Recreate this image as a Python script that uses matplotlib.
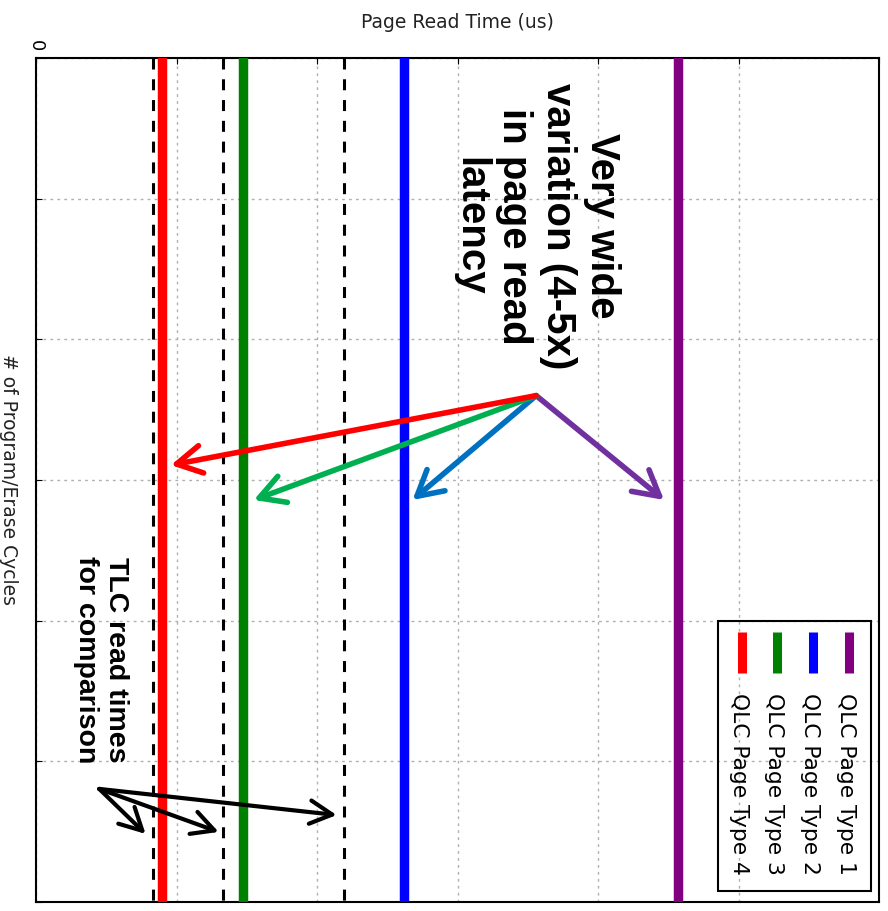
import matplotlib
matplotlib.use('Agg')
import matplotlib.pyplot as plt
from matplotlib.patches import Rectangle

# page read time (us) of each QLC page type, and TLC reference times
qlc_labels = ['QLC Page Type 1', 'QLC Page Type 2', 'QLC Page Type 3', 'QLC Page Type 4']
qlc_times = [457, 262, 147, 90]
qlc_colors = ['#800080', '#0000ff', '#008000', '#ff0000']
tlc_times = [83, 133, 219]
pe_cycles = [0, 3000]

time_ticks = [0, 100, 200, 300, 400, 500, 600]
time_ticklabels = ['0', '', '', '', '', '', '']
pe_ticks = [0, 500, 1000, 1500, 2000, 2500, 3000]

# annotation arrows: start point and tips (read time, P/E cycles)
wide_start = (356, 1200)
wide_tips = [(447, 1571), (268, 1571), (155, 1571), (96, 1447)]
wide_colors = ['#7030a0', '#0070c0', '#00b050', '#ff0000']
tlc_start = (45, 2598)
tlc_tips = [(78, 2758), (130, 2751), (214, 2691)]

fig = plt.figure(figsize=(8.88, 9.11), dpi=100)
ax = fig.add_axes([36 / 888, 9 / 911, 843 / 888, 844 / 911])

for t in tlc_times:
    ax.plot([t, t], pe_cycles, color='black', lw=2.2, dashes=(3.6, 3.2), zorder=2)
for t, c in zip(qlc_times, qlc_colors):
    ax.plot([t, t], pe_cycles, color=c, lw=6.8, zorder=3)

ax.set_xlim(0, 600)
ax.set_ylim(3000, 0)
ax.set_xticks(time_ticks)
ax.set_xticklabels(time_ticklabels)
ax.set_yticks(pe_ticks)
ax.set_yticklabels([])
ax.xaxis.tick_top()
ax.tick_params(axis='x', direction='in', length=4, labelrotation=270, labelsize=13, pad=5)
ax.tick_params(axis='y', direction='in', length=4)
ax.grid(True, color='#b0b0b0', linestyle=(0, (2, 3)), lw=1)
for s in ax.spines.values():
    s.set_linewidth(1.5)

ax.set_xlabel('Page Read Time (us)', fontsize=13.5, color='#222222', va='center')
ax.xaxis.set_label_position('top')
ax.xaxis.set_label_coords(0.5, 1.0355)
ax.set_ylabel('# of Program/Erase Cycles', fontsize=13.5, color='#222222',
              rotation=270, va='center', ha='center')
ax.yaxis.set_label_coords(-0.033, 0.5)

# hand-drawn legend, rotated like the rest of the figure
ax.add_patch(Rectangle((0.8088, 0.013), 0.1817, 0.32, transform=ax.transAxes,
                       fill=False, edgecolor='black', lw=1.5, zorder=5))
leg_x = [0.9644, 0.9216, 0.8789, 0.8373]
for x, c, lab in zip(leg_x, qlc_colors, qlc_labels):
    ax.plot([x, x], [0.3199, 0.2713], transform=ax.transAxes, color=c, lw=6.5,
            solid_capstyle='butt', zorder=6)
    ax.text(x - 0.003, 0.2476, lab, transform=ax.transAxes, rotation=270, ha='center',
            va='top', fontsize=15.7, zorder=6)

for tip, c in zip(wide_tips, wide_colors):
    ax.annotate('', xy=tip, xytext=wide_start,
                arrowprops=dict(arrowstyle='->,head_length=0.9,head_width=0.5',
                                color=c, lw=4.0, shrinkA=0, shrinkB=0,
                                mutation_scale=20), zorder=7)
for tip in tlc_tips:
    ax.annotate('', xy=tip, xytext=tlc_start,
                arrowprops=dict(arrowstyle='->,head_length=0.8,head_width=0.42',
                                color='black', lw=3.0, shrinkA=0, shrinkB=0,
                                mutation_scale=20), zorder=7)

ax.text(356, 597, 'Very wide\nvariation (4-5x)\nin page read\nlatency', rotation=270,
        ha='center', va='center', multialignment='center', fontsize=29,
        fontweight='bold', family='Liberation Sans', zorder=8)
ax.text(46, 2140, 'TLC read times\nfor comparison', rotation=270,
        ha='center', va='center', multialignment='center', fontsize=20.5,
        fontweight='bold', family='Liberation Sans', zorder=8)

fig.savefig('out.png', dpi=100)
